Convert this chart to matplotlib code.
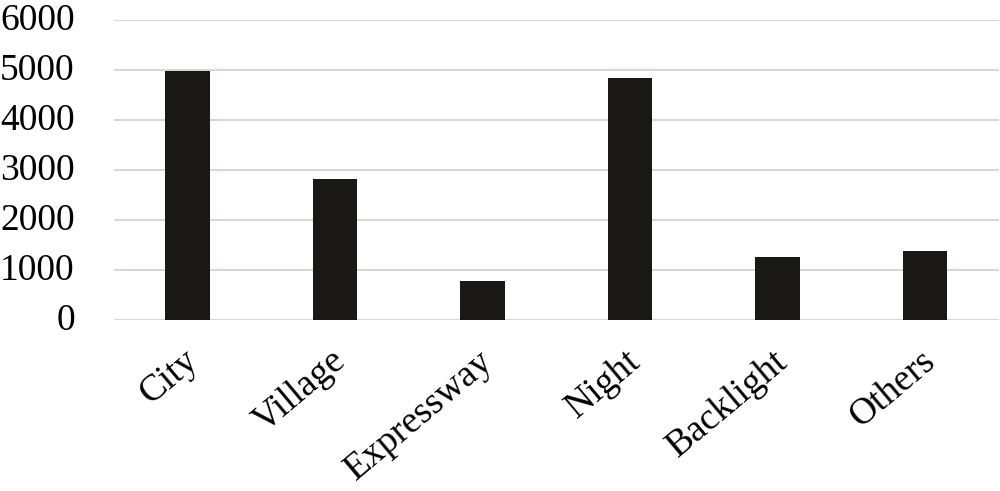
import matplotlib
matplotlib.use("Agg")
import matplotlib.pyplot as plt
from matplotlib.transforms import ScaledTranslation

categories = ["City", "Village", "Expressway", "Night", "Backlight", "Others"]
values = [4980, 2820, 780, 4840, 1260, 1380]
yticks = [0, 1000, 2000, 3000, 4000, 5000, 6000]

plt.rcParams['font.family'] = ['Liberation Serif', 'DejaVu Serif']

fig = plt.figure(figsize=(10, 4.91), dpi=100)
ax = fig.add_axes([0.11375, 1 - 320/491, 0.885, 300/491])

x = range(len(categories))
ax.bar(x, values, width=0.305, color='#1a1816', zorder=3)
ax.set_xlim(-0.5, len(categories) - 0.5)
ax.set_ylim(0, 6000)
ax.set_yticks(yticks)
ax.set_yticklabels([str(v) for v in yticks], fontsize=27)
ax.yaxis.grid(True, color='#dcd5d5', linewidth=1.5, zorder=0)
ax.set_axisbelow(True)
for s in ax.spines.values():
    s.set_visible(False)
ax.axhline(0, color='#dcd5d5', linewidth=1.5, zorder=1)
ax.tick_params(axis='y', length=0, pad=28)
ax.tick_params(axis='x', length=0, pad=17)
ax.set_xticks(list(x))
ax.set_xticklabels(categories, fontsize=27, rotation=40, ha='right', va='top', rotation_mode='anchor')
off = ScaledTranslation(-5/100, 0, fig.dpi_scale_trans)
for lab in ax.get_xticklabels():
    lab.set_transform(lab.get_transform() + off)
offy = ScaledTranslation(0, 3/100, fig.dpi_scale_trans)
for lab in ax.get_yticklabels():
    lab.set_transform(lab.get_transform() + offy)

fig.savefig("out.png", dpi=100)
